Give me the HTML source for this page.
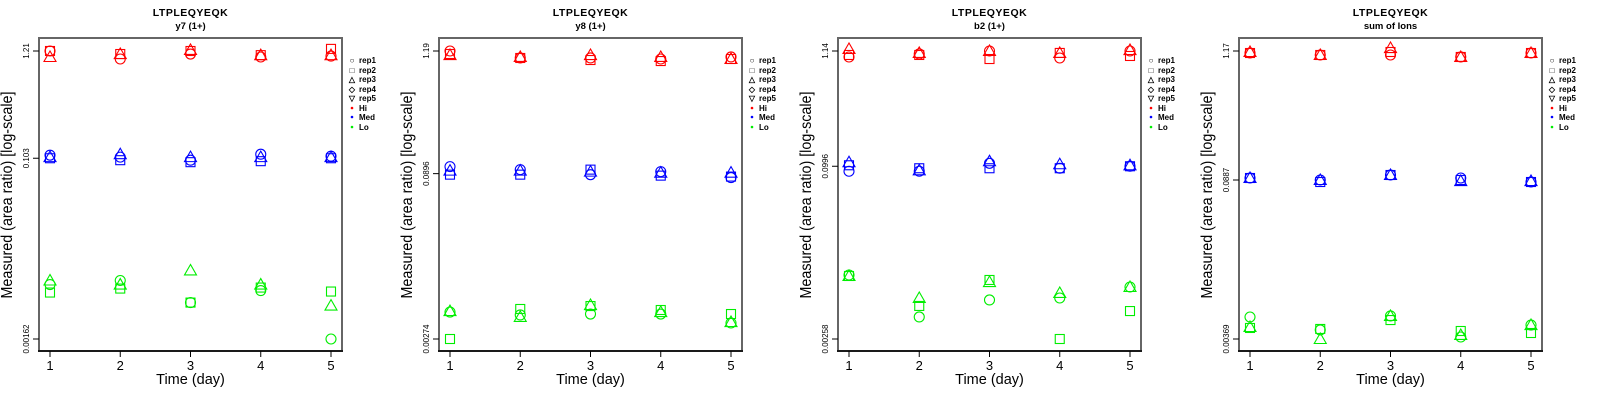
<!DOCTYPE html>
<html><head><meta charset="utf-8"><style>
html,body{margin:0;padding:0;background:#fff;}
svg{display:block;font-family:"Liberation Sans",sans-serif;}
</style></head><body>
<svg id="chart" width="1600" height="400" viewBox="0 0 1600 400" xmlns="http://www.w3.org/2000/svg"></svg>
<script>
// ---- data ----
const days = [1, 2, 3, 4, 5];
const panelTitles = ["y7 (1+)", "y8 (1+)", "b2 (1+)", "sum of Ions"];
const peptide = "LTPLEQYEQK";
const tickTop = [1.21, 1.19, 1.14, 1.17];
const tickMid = [0.103, 0.0896, 0.0996, 0.0887];
const tickBot = [0.00162, 0.00274, 0.00258, 0.00369];
const tickTopLabels = ["1.21", "1.19", "1.14", "1.17"];
const tickMidLabels = ["0.103", "0.0896", "0.0996", "0.0887"];
const tickBotLabels = ["0.00162", "0.00274", "0.00258", "0.00369"];
const groups = ["Hi", "Med", "Lo"];
const reps = ["rep1", "rep2", "rep3", "rep4", "rep5"];
// values[panel][group][rep] = per-day measurements (rep1 circle, rep2 square, rep3 triangle)
const p1Hi  = [[1.21,1.007,1.129,1.054,1.076],[1.21,1.129,1.21,1.10,1.27],[1.054,1.129,1.24,1.10,1.10]];
const p1Med = [[0.1106,0.1057,0.0985,0.113,0.108],[0.103,0.0985,0.0941,0.0963,0.103],[0.1057,0.113,0.1057,0.1057,0.1057]];
const p1Lo  = [[0.00566,0.00621,0.00374,0.00493,0.00162],[0.00471,0.00516,0.00374,0.00528,0.00482],[0.00621,0.00566,0.00782,0.00566,0.00349]];
const p2Hi  = [[1.19,1.027,1.027,1.005,1.049],[1.117,1.027,0.984,0.963,1.005],[1.093,1.049,1.093,1.049,1.005]];
const p2Med = [[0.1039,0.0975,0.0877,0.0935,0.0824],[0.0877,0.0877,0.0975,0.0859,0.0842],[0.0955,0.0955,0.0935,0.0915,0.0915]];
const p2Lo  = [[0.00484,0.00455,0.00464,0.00464,0.00384],[0.00274,0.00516,0.00549,0.00505,0.00464],[0.00494,0.00436,0.00561,0.00484,0.00392]];
const p3Hi  = [[1.004,1.071,1.14,0.983,1.14],[1.048,1.048,0.962,1.094,1.026],[1.189,1.094,1.14,1.094,1.164]];
const p3Med = [[0.0896,0.0896,0.1061,0.0955,0.0996],[0.1017,0.0955,0.0955,0.0955,0.0996],[0.1084,0.0915,0.1107,0.1039,0.1017]];
const p3Lo  = [[0.00999,0.00411,0.00589,0.00614,0.00775],[0.00978,0.00519,0.00899,0.00258,0.00466],[0.00978,0.00614,0.00861,0.00683,0.00775]];
const p4Hi  = [[1.124,1.080,1.080,1.038,1.124],[1.124,1.080,1.147,1.038,1.124],[1.147,1.080,1.242,1.038,1.124]];
const p4Med = [[0.0923,0.0887,0.0980,0.0923,0.0852],[0.0923,0.0852,0.0980,0.0887,0.0852],[0.0923,0.0887,0.0980,0.0869,0.0869]];
const p4Lo  = [[0.00573,0.00442,0.00585,0.00384,0.00488],[0.00460,0.00451,0.00539,0.00433,0.00416],[0.00469,0.00369,0.00585,0.00400,0.00488]];
const panelData = [[p1Hi,p1Med,p1Lo],[p2Hi,p2Med,p2Lo],[p3Hi,p3Med,p3Lo],[p4Hi,p4Med,p4Lo]];

// ---- layout (not data) ----
const boxLeft = [39, 439, 838, 1239];
const boxW = 303, boxTop = 38, boxBot = 351, yTopPx = 51, yBotPx = 339;
const colors = ["#ff0000", "#0000ff", "#00ee00"];
const NS = "http://www.w3.org/2000/svg";
const svg = document.getElementById("chart");
function mk(tag, attrs, parent, text) {
  const e = document.createElementNS(NS, tag);
  for (const k in attrs) e.setAttribute(k, attrs[k]);
  if (text !== undefined) e.textContent = text;
  (parent || svg).appendChild(e);
  return e;
}
function marker(shape, cx, cy, color, parent) {
  let e;
  if (shape === 0) e = mk("circle", {cx, cy, r: 5, fill: "none", stroke: color, "stroke-width": 1.1}, parent);
  else if (shape === 1) e = mk("rect", {x: cx - 4.5, y: cy - 4.5, width: 9, height: 9, fill: "none", stroke: color, "stroke-width": 1.1}, parent);
  else e = mk("polygon", {points: `${cx},${cy - 6} ${cx - 6},${cy + 4.5} ${cx + 6},${cy + 4.5}`, fill: "none", stroke: color, "stroke-width": 1.1}, parent);
  return e;
}

for (let p = 0; p < 4; p++) {
  const L = boxLeft[p], R = L + boxW;
  const g = mk("g", {});
  
  
  const xs = d => L + 11 + (d - 1) * (boxW - 22) / 4;
  const lt = Math.log10(tickTop[p]), lb = Math.log10(tickBot[p]);
  const ys = v => yTopPx + (lt - Math.log10(v)) / (lt - lb) * (yBotPx - yTopPx);
  const cx = (L + R) / 2;
  const t1 = mk("text", {x: cx, y: 16, "text-anchor": "middle", "font-size": 10.5, "font-weight": "bold", "letter-spacing": 0.5}, g, peptide);
  
  
  const t2 = mk("text", {x: cx, y: 29, "text-anchor": "middle", "font-size": 9.5, "font-weight": "bold"}, g, panelTitles[p]);
  
  
  const box = mk("rect", {x: L, y: boxTop, width: boxW, height: boxBot - boxTop, fill: "none", stroke: "#666", "stroke-width": 2}, g);
  
  
  mk("line", {x1: L - 1, x2: R + 1, y1: boxBot, y2: boxBot, stroke: "#000", "stroke-width": 1.5}, g);
  days.forEach(d => {
    mk("line", {x1: xs(d), x2: xs(d), y1: boxBot, y2: boxBot + 6, stroke: "#000"}, g);
    const tl = mk("text", {x: xs(d), y: 370, "text-anchor": "middle", "font-size": 13}, g, String(d));
    
    
  });
  const xt = mk("text", {x: cx, y: 384, "text-anchor": "middle", "font-size": 14.5}, g, "Time (day)");
  
  
  [[tickTop[p], tickTopLabels[p]], [tickMid[p], tickMidLabels[p]], [tickBot[p], tickBotLabels[p]]].forEach(([v, lab]) => {
    const y = ys(v);
    mk("line", {x1: L - 6, x2: L, y1: y, y2: y, stroke: "#000"}, g);
    const tl = mk("text", {x: 0, y: 0, "text-anchor": "middle", "font-size": 8, transform: `translate(${L - 10},${y}) rotate(-90)`}, g, lab);
    
    
  });
  const yt = mk("text", {x: 0, y: 0, "text-anchor": "middle", "font-size": 15.5, textLength: 207, lengthAdjust: "spacingAndGlyphs", transform: `translate(${L - 27},${195}) rotate(-90)`}, g, "Measured (area ratio) [log-scale]");
  
  
  panelData[p].forEach((grp, gi) => {
    grp.forEach((series, ri) => {
      series.forEach((v, di) => {
        const m = marker(ri, xs(days[di]), ys(v), colors[gi], g);
        
        
      });
    });
  });
  const lg = mk("g", {}, g);
  
  
  const lx = R + 10, rowY = [60, 70, 79, 89, 98, 108, 117, 127];
  const syms = ["○", "□", "△", "◇", "▽"];
  reps.forEach((r, i) => {
    const s = mk("text", {x: lx, y: rowY[i] + 3, "text-anchor": "middle", "font-size": 8, "font-weight": "bold"}, lg, syms[i]);
    
    
    const t = mk("text", {x: lx + 7, y: rowY[i] + 3, "font-size": 8, "font-weight": "bold"}, lg, r);
    
    
  });
  groups.forEach((gname, i) => {
    const d = mk("circle", {cx: lx, cy: rowY[5 + i], r: 1.3, fill: colors[i]}, lg);
    
    
    const t = mk("text", {x: lx + 7, y: rowY[5 + i] + 3, "font-size": 8, "font-weight": "bold"}, lg, gname);
    
    
  });
}
</script>
</body></html>
